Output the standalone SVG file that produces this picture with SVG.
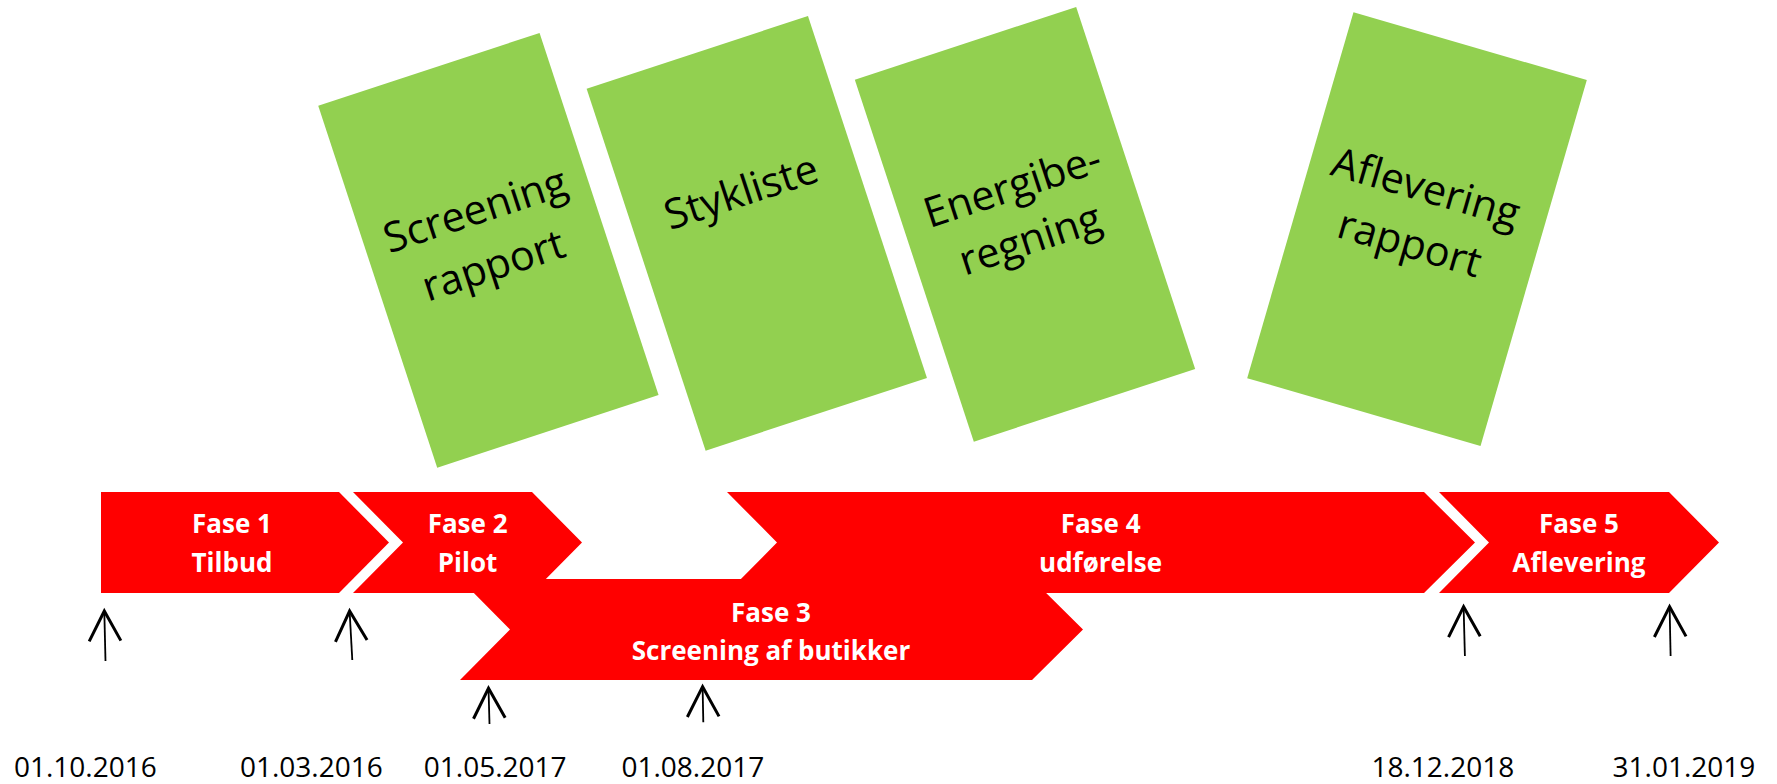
<svg xmlns="http://www.w3.org/2000/svg" width="1777" height="784" viewBox="0 0 1777 784">
<style>
.phase{fill:#FF0000;}
.plabel{font-family:"Open Sans","Liberation Sans",sans-serif;font-weight:bold;font-size:26px;fill:#FFFFFF;text-anchor:middle;}
.doc{fill:#92D050;}
.dlabel{font-family:"Open Sans","Liberation Sans",sans-serif;font-size:41.5px;fill:#000000;text-anchor:middle;}
.date{font-family:"Open Sans","Liberation Sans",sans-serif;font-size:28px;fill:#000000;text-anchor:middle;}
.arr{stroke:#000000;stroke-width:1.8;fill:none;marker-end:url(#head);}
</style>
<defs>
<marker id="head" markerUnits="userSpaceOnUse" orient="auto" refX="0" refY="0" markerWidth="40" markerHeight="40" viewBox="-20 -12 22 24" overflow="visible">
<path d="M-18,-9.5 L0,0 L-18,9.5" fill="none" stroke="#000000" stroke-width="1.8"/>
</marker>
</defs>
<rect x="0" y="0" width="1777" height="784" fill="#FFFFFF"/>

<g id="doc-screening" transform="translate(488.4,250.3) rotate(-18.2)">
<rect class="doc" x="-116.5" y="-190.5" width="233" height="381"/>
<text class="dlabel" x="0" y="-28">Screening</text>
<text class="dlabel" x="0" y="30">rapport</text>
</g>
<g id="doc-stykliste" transform="translate(756.8,233.3) rotate(-18.2)">
<rect class="doc" x="-116.5" y="-190.5" width="233" height="381"/>
<text class="dlabel" x="-2" y="-30">Stykliste</text>
</g>
<g id="doc-energi" transform="translate(1025,224.3) rotate(-18.2)">
<rect class="doc" x="-116.5" y="-190.5" width="233" height="381"/>
<text class="dlabel" x="0" y="-26">Energibe-</text>
<text class="dlabel" x="0" y="30">regning</text>
</g>
<g id="doc-aflevering" transform="translate(1417,229.1) rotate(16.2)">
<rect class="doc" x="-121.5" y="-190.5" width="243" height="381"/>
<text class="dlabel" x="-3" y="-28">Aflevering</text>
<text class="dlabel" x="-3" y="30">rapport</text>
</g>

<g id="fase1">
<polygon class="phase" points="101,492 339,492 389,542.5 339,593 101,593"/>
<text class="plabel" x="232" y="533.3">Fase 1</text>
<text class="plabel" x="232" y="571.7">Tilbud</text>
</g>
<g id="fase2">
<polygon class="phase" points="353,492 532,492 582,542.5 532,593 353,593 403,542.5"/>
<text class="plabel" x="467.6" y="533.3">Fase 2</text>
<text class="plabel" x="467.6" y="571.7">Pilot</text>
</g>
<g id="fase4">
<polygon class="phase" points="727,492 1424,492 1475,542.5 1424,593 727,593 777,542.5"/>
<text class="plabel" x="1100.6" y="533.3">Fase 4</text>
<text class="plabel" x="1100.6" y="571.7">udførelse</text>
</g>
<g id="fase3">
<polygon class="phase" points="460,579 1032,579 1083,629.5 1032,680 460,680 510,629.5"/>
<text class="plabel" x="771" y="621.7">Fase 3</text>
<text class="plabel" x="771" y="660">Screening af butikker</text>
</g>
<g id="fase5">
<polygon class="phase" points="1439,492 1669,492 1719,542.5 1669,593 1439,593 1489,542.5"/>
<text class="plabel" x="1579" y="533.3">Fase 5</text>
<text class="plabel" x="1579" y="571.7">Aflevering</text>
</g>

<g id="connectors">
<line class="arr" x1="105.5" y1="661" x2="104.3" y2="611"/>
<line class="arr" x1="352.3" y1="660" x2="349.6" y2="611"/>
<line class="arr" x1="489.5" y1="724" x2="488.5" y2="688.3"/>
<line class="arr" x1="703.3" y1="722.3" x2="702.6" y2="686.7"/>
<line class="arr" x1="1464.9" y1="656" x2="1463.6" y2="606.7"/>
<line class="arr" x1="1670.6" y1="656" x2="1669.6" y2="606.7"/>
</g>

<g id="dates">
<text class="date" x="85.3" y="777">01.10.2016</text>
<text class="date" x="311.3" y="777">01.03.2016</text>
<text class="date" x="495.2" y="777">01.05.2017</text>
<text class="date" x="692.8" y="777">01.08.2017</text>
<text class="date" x="1442.8" y="777">18.12.2018</text>
<text class="date" x="1684" y="777">31.01.2019</text>
</g>
</svg>
